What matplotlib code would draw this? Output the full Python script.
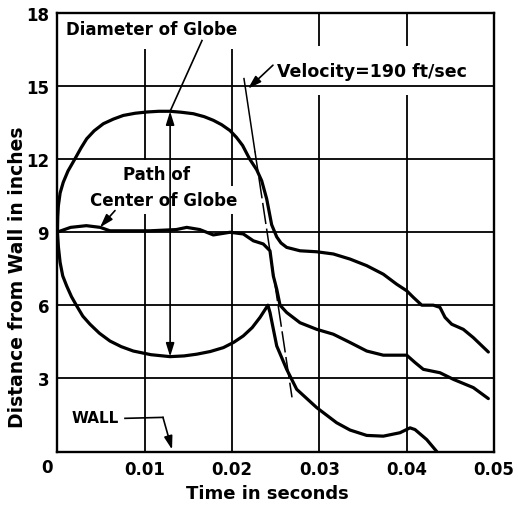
import numpy as np
import matplotlib.pyplot as plt

plt.rcParams['font.family'] = ['DejaVu Sans']
plt.rcParams['font.weight'] = 'bold'

# top of globe (upper arc of the circle, then the upper trace)
upper_t = [0, 0.00003, 0.0001, 0.0003, 0.00066, 0.0012, 0.0020, 0.0027, 0.00334, 0.0042,
           0.00525, 0.0064, 0.00754, 0.0089, 0.01022, 0.0116, 0.01289, 0.0142, 0.01556,
           0.0168, 0.01785, 0.0188, 0.01976, 0.0205, 0.0212, 0.0220, 0.02282, 0.02339,
           0.02396, 0.02453, 0.02511, 0.0256, 0.02625, 0.02778, 0.02969, 0.03159, 0.03351,
           0.03542, 0.03732, 0.03885, 0.0400, 0.04076, 0.04172, 0.04305, 0.04381, 0.04439,
           0.04515, 0.04648, 0.04763, 0.04935]
upper_y = [9.0, 9.6, 10.08, 10.6, 11.04, 11.5, 12.0, 12.45, 12.82, 13.15,
           13.44, 13.63, 13.78, 13.87, 13.92, 13.95, 13.95, 13.91, 13.85,
           13.73, 13.58, 13.4, 13.16, 12.88, 12.55, 12.0, 11.55, 11.1,
           10.36, 9.3, 8.8, 8.55, 8.37, 8.23, 8.19, 8.10, 7.89,
           7.62, 7.27, 6.86, 6.59, 6.32, 6.0, 6.0, 5.91, 5.5,
           5.22, 5.01, 4.67, 4.08]

# path of center of globe
mid_t = [0, 0.0015, 0.0033, 0.0049, 0.0060, 0.0106, 0.0136, 0.0148, 0.0163, 0.01785,
         0.01976, 0.02128, 0.02243, 0.02357, 0.02434, 0.02472, 0.02511, 0.02549, 0.02625,
         0.02778, 0.02969, 0.03159, 0.03351, 0.03542, 0.03732, 0.0400, 0.04095, 0.0419,
         0.04381, 0.04534, 0.04763, 0.04935]
mid_y = [9.0, 9.19, 9.26, 9.19, 9.05, 9.05, 9.1, 9.19, 9.1, 8.88,
         8.99, 8.92, 8.64, 8.51, 8.23, 7.2, 6.66, 6.0, 5.7,
         5.28, 5.01, 4.81, 4.47, 4.12, 3.95, 3.95, 3.65, 3.37,
         3.23, 2.96, 2.62, 2.17]

# bottom of globe (lower arc of the circle, then the lower trace)
low_t = [0, 0.0001, 0.0003, 0.0006, 0.00105, 0.0016, 0.0022, 0.0029, 0.00372, 0.0048,
         0.00601, 0.0073, 0.00868, 0.0107, 0.01289, 0.0145, 0.01594, 0.0175, 0.0190,
         0.0202, 0.02128, 0.0223, 0.0232, 0.0241, 0.02434, 0.02511, 0.02625, 0.0274,
         0.02969, 0.03197, 0.03351, 0.03542, 0.03732, 0.03923, 0.04038, 0.04095, 0.04229,
         0.04344]
low_y = [9.0, 8.4, 7.75, 7.2, 6.79, 6.35, 5.97, 5.55, 5.22, 4.85,
         4.53, 4.3, 4.12, 3.97, 3.89, 3.92, 3.99, 4.1, 4.26,
         4.48, 4.74, 5.08, 5.5, 6.0, 5.7, 4.33, 3.37, 2.55,
         1.8, 1.18, 0.88, 0.66, 0.63, 0.77, 0.97, 0.9, 0.49,
         0.0]

# velocity line (190 ft/sec)
vel_t = [0.02136, 0.02686]
vel_y = [15.29, 2.22]
vel_solid_to = 12.3

x_ticks = [0.01, 0.02, 0.03, 0.04, 0.05]
x_labels = ['0.01', '0.02', '0.03', '0.04', '0.05']
y_ticks = [3, 6, 9, 12, 15, 18]
y_labels = ['3', '6', '9', '12', '15', '18']

fig = plt.figure(figsize=(5.18, 5.06), dpi=100)
ax = fig.add_axes([0.111, 0.1057, 0.8427, 0.8676])
ax.set_xlim(0, 0.05)
ax.set_ylim(0, 18)

# grid: verticals under the label boxes, horizontals over them
for x in x_ticks[:-1]:
    ax.axvline(x, color='black', lw=1.3, zorder=1)
for y in y_ticks[:-1]:
    ax.axhline(y, color='black', lw=1.3, zorder=3)

for s in ax.spines.values():
    s.set_linewidth(1.7)
    s.set_zorder(2.5)

lw = 2.3
for tt, yy in [(upper_t, upper_y), (mid_t, mid_y), (low_t, low_y)]:
    ax.plot(tt, yy, color='black', lw=lw, zorder=4,
            solid_joinstyle='round', solid_capstyle='round')

t_split = np.interp(vel_solid_to, vel_y[::-1], vel_t[::-1])
ax.plot([vel_t[0], t_split], [vel_y[0], vel_solid_to], color='black', lw=1.1, zorder=4)
ax.plot([t_split, vel_t[1]], [vel_solid_to, vel_y[1]], color='black', lw=1.1,
        dashes=(14, 3), zorder=4)

ax.set_xticks(x_ticks)
ax.set_xticklabels(x_labels)
ax.set_yticks(y_ticks)
ax.set_yticklabels(y_labels)
ax.tick_params(length=0, pad=6, labelsize=12)
ax.annotate('0', xy=(0, 0), xytext=(-7.5, -11), textcoords='offset points',
            ha='center', va='center', fontsize=12)

ax.set_xlabel('Time in seconds', fontsize=13, fontweight='bold')
ax.xaxis.set_label_coords(0.48, -0.075)
ax.set_ylabel('Distance from Wall in inches', fontsize=13.5, fontweight='bold')
ax.yaxis.set_label_coords(-0.07, 0.40)

white = dict(facecolor='white', edgecolor='none', boxstyle='square,pad=0.7')
ax.text(0.01083, 17.34, 'Diameter of Globe', ha='center', va='center', fontsize=12,
        bbox=white, zorder=2)
ax.text(0.03603, 15.62, 'Velocity=190 ft/sec', ha='center', va='center', fontsize=12.5,
        bbox=dict(facecolor='white', edgecolor='none', boxstyle='square,pad=0.9'), zorder=2)
small = dict(facecolor='white', edgecolor='none', boxstyle='square,pad=0.3')
ax.text(0.01129, 11.38, 'Path of', ha='center', va='center', fontsize=12, bbox=small, zorder=2)
ax.text(0.0122, 10.32, 'Center of Globe', ha='center', va='center', fontsize=12,
        bbox=small, zorder=2)
ax.text(0.0043, 1.40, 'WALL', ha='center', va='center', fontsize=11, zorder=5)

head = '-|>,head_length=0.8,head_width=0.25'
# diameter arrow with both heads
ax.annotate('', xy=(0.0129, 13.95), xytext=(0.0129, 3.89),
            arrowprops=dict(arrowstyle='<|-|>,head_length=0.8,head_width=0.25',
                            color='black', lw=1.2, shrinkA=0, shrinkB=0), zorder=5)
ax.plot([0.01655, 0.0129], [16.85, 13.95], color='black', lw=1.2, zorder=5)
ax.annotate('', xy=(0.00487, 9.19), xytext=(0.00659, 9.88),
            arrowprops=dict(arrowstyle=head, color='black', lw=1.2, shrinkA=0, shrinkB=0),
            zorder=5)
ax.annotate('', xy=(0.02182, 14.88), xytext=(0.02468, 15.84),
            arrowprops=dict(arrowstyle=head, color='black', lw=1.2, shrinkA=0, shrinkB=0),
            zorder=5)
ax.plot([0.00773, 0.01208], [1.36, 1.40], color='black', lw=1.2, zorder=5)
ax.annotate('', xy=(0.01312, 0.08), xytext=(0.01208, 1.40),
            arrowprops=dict(arrowstyle=head, color='black', lw=1.2, shrinkA=0, shrinkB=0),
            zorder=5)

fig.savefig('out.png', dpi=100)
